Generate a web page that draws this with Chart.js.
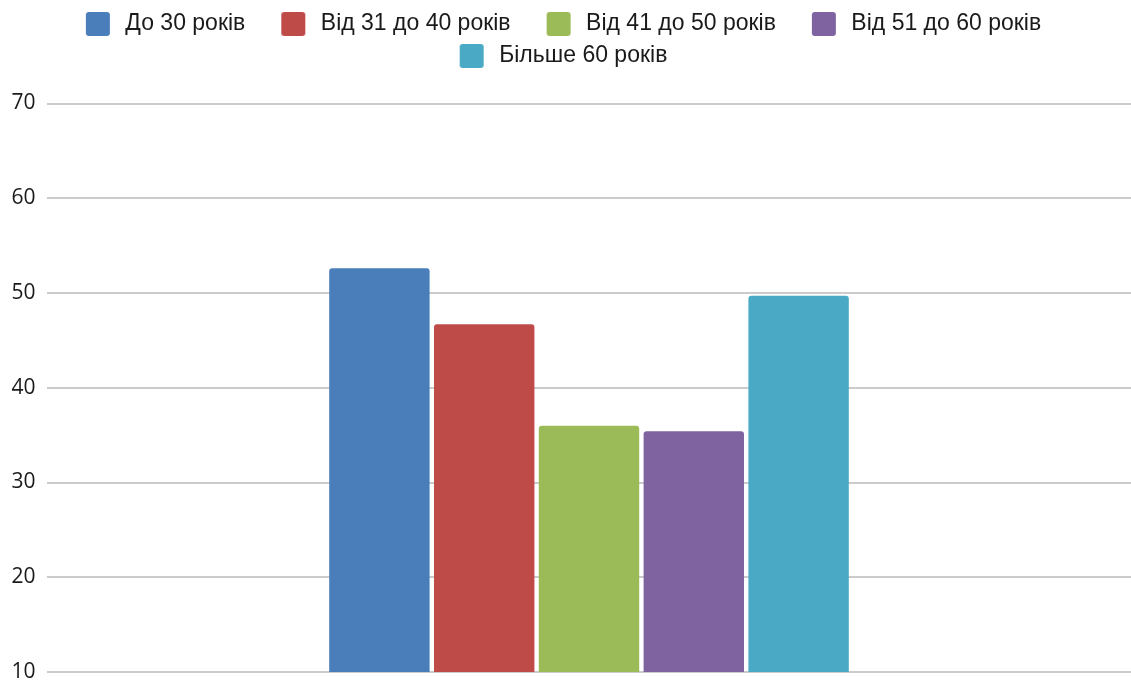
<!DOCTYPE html>
<html lang="uk">
<head>
<meta charset="utf-8">
<title>Розподіл за віком</title>
<script src="https://cdn.jsdelivr.net/npm/chart.js@4/dist/chart.umd.min.js"></script>
<style>
  html, body { margin: 0; padding: 0; background: #ffffff; }
  #wrap { width: 1131px; height: 681px; position: relative; }
</style>
</head>
<body>
<div id="wrap"><canvas id="chart"></canvas></div>
<script>
// Age groups and their values
const categories = [''];
const seriesNames = ['До 30 років', 'Від 31 до 40 років', 'Від 41 до 50 років', 'Від 51 до 60 років', 'Більше 60 років'];
const seriesValues = [52.6, 46.7, 36.0, 35.4, 49.7];
const seriesColors = ['#4a7ebb', '#be4b48', '#9bbb59', '#7f63a1', '#4aa9c4'];
const yTicks = [10, 20, 30, 40, 50, 60, 70];

// Legend swatch geometry: blank lead-in, square, short gap before the text
const SW_LEFT = 27, SW_SIZE = 24, SW_RIGHT = 4;
const LEGEND_FONT = 23;

function makeSwatch(color) {
  const c = document.createElement('canvas');
  c.width = SW_LEFT + SW_SIZE + SW_RIGHT;
  c.height = SW_SIZE;
  const g = c.getContext('2d');
  g.fillStyle = color;
  g.beginPath();
  if (g.roundRect) g.roundRect(SW_LEFT, 0, SW_SIZE, SW_SIZE, 3);
  else g.rect(SW_LEFT, 0, SW_SIZE, SW_SIZE);
  g.fill();
  return c;
}
const swatches = seriesColors.map(makeSwatch);

const datasets = seriesNames.map((name, i) => ({
  label: name,
  data: [seriesValues[i]],
  backgroundColor: seriesColors[i],
  borderWidth: 0,
  borderRadius: 3,
  categoryPercentage: 0.4834,
  barPercentage: 0.958
}));

// Legend tweaks: centre rows on the visible swatches and leave room below
const legendTweaks = {
  id: 'legendTweaks',
  beforeInit(chart) {
    const fit = chart.legend.fit;
    chart.legend.fit = function () {
      fit.call(this);
      this.height += 26;
      if (this.lineWidths) this.lineWidths = this.lineWidths.map(w => w + SW_LEFT + 4);
    };
  }
};

new Chart(document.getElementById('chart'), {
  type: 'bar',
  data: { labels: categories, datasets },
  plugins: [legendTweaks],
  options: {
    responsive: true,
    maintainAspectRatio: false,
    animation: false,
    layout: { padding: { top: 3.5, left: 0, right: 0, bottom: 0 } },
    plugins: {
      tooltip: { enabled: false },
      legend: {
        position: 'top',
        align: 'center',
        labels: {
          usePointStyle: true,
          pointStyleWidth: SW_LEFT + SW_SIZE + SW_RIGHT,
          padding: 9,
          color: '#1a1a1a',
          font: { family: '"Liberation Sans", Arial, sans-serif', size: LEGEND_FONT },
          generateLabels(chart) {
            const items = Chart.defaults.plugins.legend.labels.generateLabels(chart);
            items.forEach((it, i) => { it.pointStyle = swatches[i]; });
            return items;
          }
        }
      }
    },
    scales: {
      x: { display: false },
      y: {
        min: yTicks[0],
        max: yTicks[yTicks.length - 1],
        border: { display: false },
        grid: { color: '#cbcbcb', lineWidth: 2, drawTicks: false },
        ticks: {
          stepSize: yTicks[1] - yTicks[0],
          padding: 11.5,
          color: '#1a1a1a',
          font: { family: '"Open Sans", sans-serif', size: 21, lineHeight: 1 }
        },
        afterFit(scale) {
          scale.paddingBottom = 9;
        }
      }
    }
  }
});
</script>
</body>
</html>
